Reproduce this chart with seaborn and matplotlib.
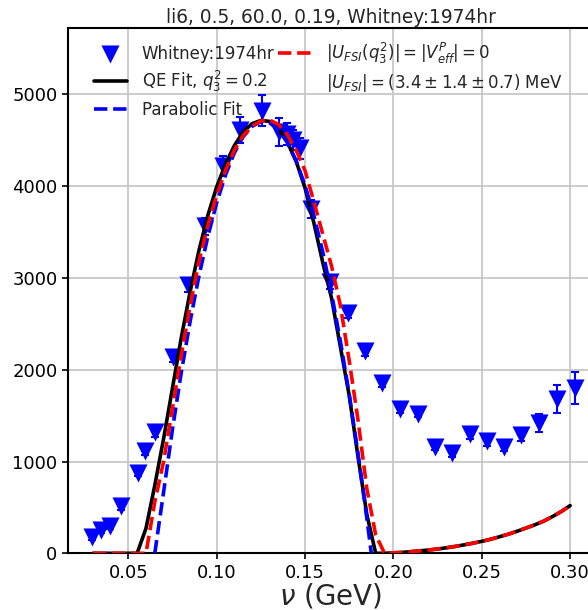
import numpy as np
import pandas as pd
import matplotlib
matplotlib.use("Agg")
import matplotlib.pyplot as plt
import seaborn as sns

# ---- data ----
nu_data = [0.0294, 0.0347, 0.0395, 0.0457, 0.0555, 0.0597, 0.0653, 0.0755, 0.0836, 0.0932,
           0.1036, 0.1131, 0.1255, 0.1350, 0.1397, 0.1434, 0.1472, 0.1533, 0.1640, 0.1746,
           0.1840, 0.1935, 0.2038, 0.2137, 0.2233, 0.2331, 0.2431, 0.2529, 0.2627, 0.2724,
           0.2826, 0.2926, 0.3026]
xs_data = [180, 250, 300, 510, 880, 1110, 1320, 2140, 2920, 3560,
           4220, 4610, 4820, 4590, 4570, 4500, 4410, 3750, 2950, 2620,
           2200, 1860, 1570, 1520, 1160, 1090, 1300, 1220, 1160, 1290,
           1420, 1680, 1800]
xs_err = [30, 30, 30, 40, 40, 40, 50, 60, 70, 90,
          110, 140, 170, 150, 120, 110, 110, 100, 70, 60,
          50, 45, 40, 40, 40, 40, 50, 50, 50, 70,
          100, 150, 170]

nu_curve = [0.030, 0.035, 0.040, 0.045, 0.050, 0.055, 0.060, 0.065, 0.070, 0.075,
            0.080, 0.085, 0.090, 0.095, 0.100, 0.105, 0.110, 0.115, 0.120, 0.125,
            0.130, 0.135, 0.140, 0.145, 0.150, 0.155, 0.160, 0.165, 0.170, 0.175,
            0.180, 0.185, 0.190, 0.195, 0.200, 0.205, 0.210, 0.215, 0.220, 0.225,
            0.230, 0.235, 0.240, 0.245, 0.250, 0.255, 0.260, 0.265, 0.270, 0.275,
            0.280, 0.285, 0.290, 0.295, 0.300]
qe_fit = [0, 0, 0, 0, 0, 0, 270, 740, 1250, 1800,
          2350, 2850, 3300, 3680, 3990, 4240, 4440, 4590, 4680, 4715,
          4705, 4630, 4480, 4270, 3980, 3600, 3170, 2780, 2250, 1720,
          1050, 420, 0, 0, 5, 10, 18, 27, 36, 47,
          60, 75, 92, 110, 130, 153, 180, 208, 240, 275,
          310, 350, 400, 455, 520]
fsi_zero = [0, 0, 0, 0, 0, 0, 0, 560, 1000, 1580,
            2160, 2700, 3180, 3570, 3900, 4170, 4390, 4550, 4650, 4710,
            4720, 4670, 4560, 4390, 4170, 3830, 3480, 3130, 2700, 2100,
            1450, 700, 200, 0, 5, 10, 18, 27, 36, 47,
            60, 75, 92, 110, 130, 153, 180, 208, 240, 275,
            310, 350, 400, 455, 520]

nu_para = [0.065, 0.070, 0.075, 0.080, 0.085, 0.090, 0.095, 0.100, 0.105, 0.110,
           0.115, 0.120, 0.125, 0.130, 0.135, 0.140, 0.145, 0.150, 0.155, 0.160,
           0.165, 0.170, 0.175, 0.180, 0.185, 0.1875]
para_fit = [0, 669, 1351, 1971, 2527, 3021, 3450, 3817, 4121, 4361,
            4538, 4651, 4702, 4689, 4614, 4475, 4272, 4007, 3678, 3286,
            2831, 2312, 1731, 1086, 378, 0]

title = "li6, 0.5, 60.0, 0.19, Whitney:1974hr"

# ---- figure ----
sns.set_style("ticks")
plt.rcParams['font.family'] = ['DejaVu Sans']
plt.rcParams['mathtext.fontset'] = 'dejavusans'

fig = plt.figure(figsize=(5.88, 6.10), dpi=100)
ax = fig.add_axes([68 / 588, (610 - 553.3) / 610, (594 - 68) / 588, (553.3 - 28.3) / 610])

ax.grid(True, color='#c4c4c4', lw=1.2, zorder=0)
ax.set_axisbelow(True)

df = pd.DataFrame({"nu": nu_data, "xs": xs_data, "err": xs_err})
ax.errorbar(df["nu"], df["xs"], yerr=df["err"], fmt='none', ecolor='blue',
            elinewidth=1.5, capsize=3, capthick=1.5, zorder=2)
sns.scatterplot(data=df, x="nu", y="xs", marker='v', s=13 ** 2, color='blue',
                edgecolor='blue', linewidth=0, ax=ax, label="Whitney:1974hr", zorder=3)

cdf = pd.DataFrame({"nu": nu_curve, "qe": qe_fit, "fsi": fsi_zero})
pdf = pd.DataFrame({"nu": nu_para, "para": para_fit})
sns.lineplot(data=cdf, x="nu", y="qe", color='black', lw=2.6, ax=ax,
             label=r'QE Fit, $q_3^2 = 0.2$', zorder=4)
sns.lineplot(data=pdf, x="nu", y="para", color='blue', lw=2.6, linestyle='--', ax=ax,
             label='Parabolic Fit', zorder=5)
sns.lineplot(data=cdf, x="nu", y="fsi", color='red', lw=2.6, linestyle='--', ax=ax,
             label=r'$|U_{FSI}(q_3^2)| = |V_{eff}^P| = 0$', zorder=6)
ax.plot([], [], ' ', label=r'$|U_{FSI}| = (3.4 \pm 1.4 \pm 0.7)$ MeV')

ax.set_xlim(0.0159, 0.3135)
ax.set_ylim(0, 5719)
ax.set_xticks([0.05, 0.10, 0.15, 0.20, 0.25, 0.30])
ax.set_xticklabels(['0.05', '0.10', '0.15', '0.20', '0.25', '0.30'])
ax.set_yticks([0, 1000, 2000, 3000, 4000, 5000])
ax.tick_params(labelsize=13, length=4, width=1.2, colors='black')
ax.set_xlabel(r'$\nu$ (GeV)', fontsize=20, labelpad=0)
ax.set_ylabel('')
ax.set_title(title, fontsize=13.4, pad=4)
for s in ax.spines.values():
    s.set_color('black')
    s.set_linewidth(1.5)

handles, labels = ax.get_legend_handles_labels()
order = ["Whitney:1974hr", r'QE Fit, $q_3^2 = 0.2$', 'Parabolic Fit',
         r'$|U_{FSI}(q_3^2)| = |V_{eff}^P| = 0$', r'$|U_{FSI}| = (3.4 \pm 1.4 \pm 0.7)$ MeV']
hmap = dict(zip(labels, handles))
ax.legend([hmap[l] for l in order], order, ncol=2, loc='upper left',
          bbox_to_anchor=(0.02, 1.005), frameon=False, fontsize=12,
          handlelength=2.0, columnspacing=0.2, labelspacing=0.38, handletextpad=0.9)

fig.savefig("out.png", dpi=100)
